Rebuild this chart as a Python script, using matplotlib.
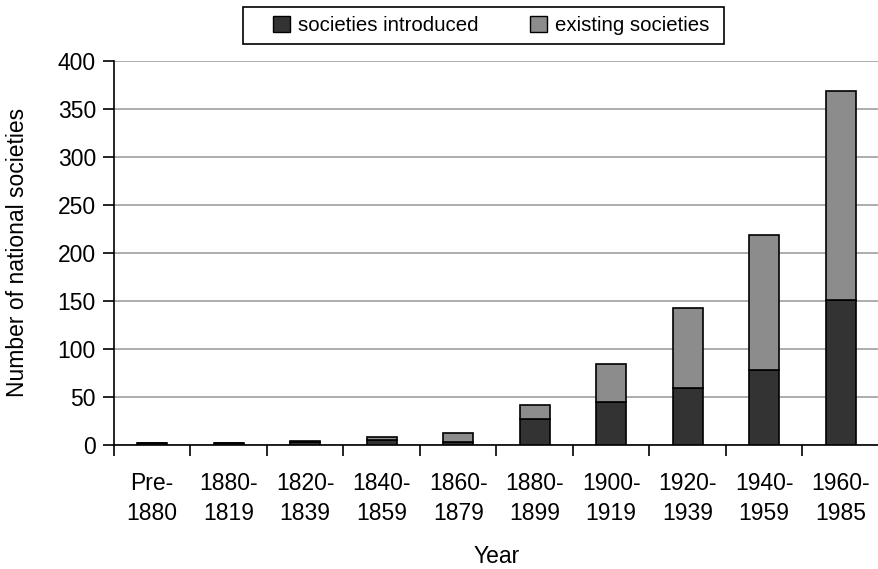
import numpy as np
import matplotlib.pyplot as plt
from matplotlib.patches import Patch, Rectangle

plt.rcParams['font.family'] = ['Liberation Sans', 'DejaVu Sans']

# 数据
periods = ['Pre-\n1880', '1880-\n1819', '1820-\n1839', '1840-\n1859', '1860-\n1879',
           '1880-\n1899', '1900-\n1919', '1920-\n1939', '1940-\n1959', '1960-\n1985']
introduced = [2, 2, 3, 5, 3, 27, 44, 59, 78, 151]
existing = [0, 0, 1, 3, 9, 14, 40, 83, 140, 218]

fs = 16.5
W, H = 879, 569

fig = plt.figure(figsize=(8.79, 5.69), dpi=100)
ax = fig.add_axes([114 / W, 1 - 444.5 / H, 765 / W, 383.5 / H])

x = np.arange(len(periods))
ax.bar(x, introduced, width=0.39, color='#333333', edgecolor='black', linewidth=1.2, zorder=3)
ax.bar(x, existing, width=0.39, bottom=introduced, color='#8c8c8c', edgecolor='black',
       linewidth=1.2, zorder=3)

ax.set_xlim(-0.5, len(periods) - 0.5)
ax.set_ylim(0, 400)
ax.set_yticks(range(0, 401, 50))
ax.yaxis.grid(True, color='#a0a0a0', linewidth=1.2, zorder=0)

# x 轴刻度在类别边界，标签居中
ax.set_xticks(np.arange(-0.5, len(periods), 1))
ax.set_xticklabels([])
ax.set_xticks(x, minor=True)
ax.set_xticklabels(periods, minor=True, fontsize=fs, linespacing=1.4)
ax.tick_params(axis='x', which='minor', length=0, pad=20)
ax.tick_params(axis='x', which='major', length=8, width=1.2, direction='out')
ax.tick_params(axis='y', length=8, width=1.2, labelsize=fs, pad=5)

for s in ['top', 'right']:
    ax.spines[s].set_visible(False)
for s in ['left', 'bottom']:
    ax.spines[s].set_linewidth(1.2)

ax.set_xlabel('Year', fontsize=fs, labelpad=14)
ax.set_ylabel('Number of national societies', fontsize=fs, labelpad=21)

# 图例：手动画外框
fig.patches.append(Rectangle((243 / W, 1 - 44 / H), 481 / W, 37 / H, transform=fig.transFigure,
                             facecolor='white', edgecolor='black', linewidth=1.2, zorder=1))
handles = [Patch(facecolor='#333333', edgecolor='black'),
           Patch(facecolor='#8c8c8c', edgecolor='black')]
leg = fig.legend(handles, ['societies introduced', 'existing societies'], ncol=2,
                 loc='center left', bbox_to_anchor=(273 / W, 1 - 25.5 / H),
                 fontsize=14.7, frameon=False,
                 handlelength=0.83, handleheight=0.83, columnspacing=2.5, handletextpad=0.4,
                 borderpad=0, borderaxespad=0)

plt.savefig('out.png', dpi=100)
